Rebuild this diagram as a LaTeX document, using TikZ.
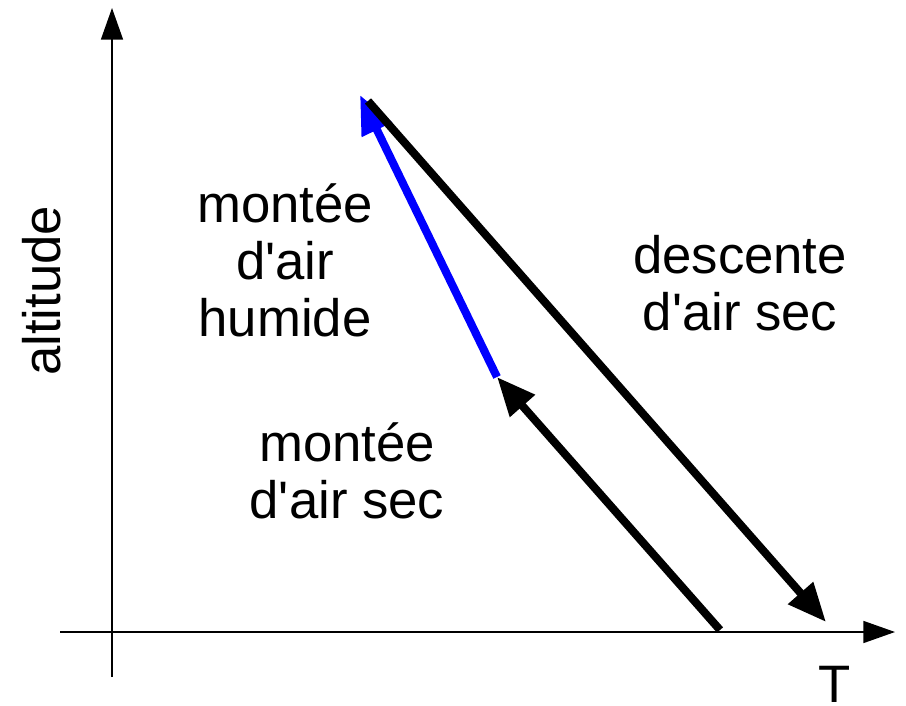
\documentclass[tikz,border=0pt]{standalone}
\usepackage{fontspec}
\setmainfont{Liberation Sans}
\usetikzlibrary{arrows.meta}

\begin{document}
\begin{tikzpicture}[x=0.02cm,y=-0.02cm]
  \tikzstyle{axis}=[line width=0.9pt,-{Triangle[length=18pt,width=12.5pt]}]
  \tikzstyle{path}=[line width=4.6pt,-{Triangle[length=22pt,width=18pt]}]
  \tikzstyle{lbl}=[font=\fontsize{30}{32.5}\selectfont,align=center,inner sep=0pt]
  \useasboundingbox (0,0) rectangle (906,706);
  % axes
  \coordinate (ybot) at (112,677);
  \coordinate (ytop) at (112,8);
  \coordinate (xleft) at (60,632);
  \coordinate (xright) at (895,632);
  \draw[axis] (ybot) -- (ytop);
  \draw[axis] (xleft) -- (xright);
  \node[lbl,rotate=90] (alt) at (42,291) {altitude};
  \node[font=\fontsize{30}{32.5}\selectfont,inner sep=0pt] (temp) at (835,684) {T};
  % trajets
  \coordinate (dep) at (720,630);
  \coordinate (sat) at (497,377);
  \coordinate (haut) at (360,95);
  \coordinate (dhaut) at (368,101);
  \coordinate (dbas) at (826,622);
  \draw[path] (dep) -- (sat);
  \draw[path,blue] (sat) -- (haut);
  \draw[path] (dhaut) -- (dbas);
  \node[lbl] (humide) at (285,260) {montée\\d\textquotesingle air\\humide};
  \node[lbl] (sec) at (347,471) {montée\\d\textquotesingle air sec};
  \node[lbl] (desc) at (740,283) {descente\\d\textquotesingle air sec};
\end{tikzpicture}
\end{document}
